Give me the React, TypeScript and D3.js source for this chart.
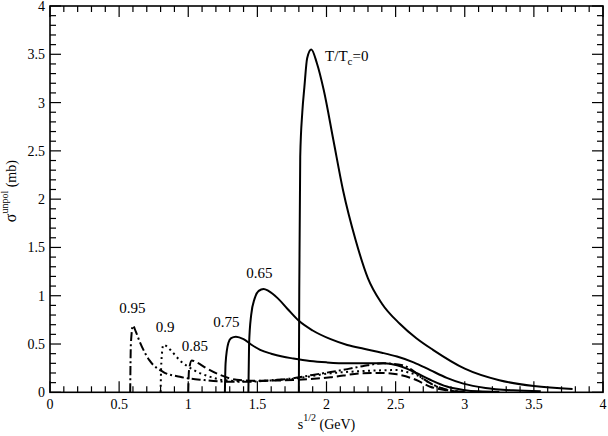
import { useEffect, useRef } from "react";
import * as d3 from "d3";

// curves, one per T/Tc
const t0X = [1.8, 1.803, 1.81, 1.825, 1.84, 1.86, 1.89, 1.93, 1.98, 2.05, 2.12, 2.21, 2.3, 2.4, 2.53, 2.65, 2.77, 3.0, 3.25, 3.5, 3.78];
const t0Y = [0, 1.06, 2.44, 2.9, 3.16, 3.46, 3.55, 3.41, 3.13, 2.61, 2.09, 1.58, 1.18, 0.92, 0.71, 0.56, 0.44, 0.245, 0.125, 0.065, 0.035];

const t65X = [1.435, 1.44, 1.455, 1.48, 1.51, 1.545, 1.58, 1.65, 1.72, 1.8, 1.9, 2.03, 2.15, 2.27, 2.4, 2.51, 2.63, 2.75, 2.87, 2.99, 3.15, 3.35, 3.55];
const t65Y = [0, 0.5, 0.8, 0.97, 1.05, 1.07, 1.05, 0.97, 0.86, 0.74, 0.64, 0.55, 0.49, 0.45, 0.41, 0.37, 0.31, 0.23, 0.15, 0.09, 0.045, 0.02, 0.01];

const t75X = [1.265, 1.27, 1.29, 1.31, 1.345, 1.4, 1.46, 1.52, 1.6, 1.68, 1.76, 1.88, 2.0, 2.15, 2.3, 2.41, 2.51, 2.58, 2.65, 2.75, 2.87, 2.99, 3.1, 3.25];
const t75Y = [0, 0.3, 0.51, 0.56, 0.575, 0.55, 0.49, 0.44, 0.4, 0.37, 0.35, 0.325, 0.31, 0.3, 0.3, 0.3, 0.28, 0.245, 0.2, 0.13, 0.06, 0.025, 0.01, 0.005];

const t85X = [1.0, 1.005, 1.025, 1.06, 1.13, 1.23, 1.35, 1.5, 1.76, 2.03, 2.26, 2.4, 2.51, 2.65, 2.75, 2.87, 2.95];
const t85Y = [0, 0.22, 0.33, 0.31, 0.25, 0.18, 0.13, 0.12, 0.127, 0.155, 0.197, 0.2, 0.186, 0.127, 0.058, 0.02, 0.005];

const t90X = [0.8, 0.805, 0.82, 0.84, 0.87, 0.94, 1.04, 1.16, 1.25, 1.4, 1.55, 1.76, 2.03, 2.26, 2.51, 2.58, 2.65, 2.75, 2.87, 2.95];
const t90Y = [0, 0.3, 0.49, 0.48, 0.44, 0.33, 0.23, 0.16, 0.127, 0.115, 0.12, 0.14, 0.197, 0.22, 0.23, 0.21, 0.18, 0.093, 0.024, 0.005];

const t95X = [0.58, 0.585, 0.6, 0.62, 0.65, 0.72, 0.82, 0.94, 1.11, 1.28, 1.45, 1.6, 1.76, 1.9, 2.03, 2.15, 2.26, 2.41, 2.55, 2.62, 2.68, 2.8, 2.9, 3.0];
const t95Y = [0, 0.5, 0.69, 0.63, 0.52, 0.33, 0.21, 0.16, 0.127, 0.11, 0.11, 0.125, 0.145, 0.18, 0.21, 0.24, 0.27, 0.3, 0.28, 0.23, 0.16, 0.06, 0.02, 0.005];

const xTickLabels = ["0", "0.5", "1", "1.5", "2", "2.5", "3", "3.5", "4"];
const yTickLabels = ["0", "0.5", "1", "1.5", "2", "2.5", "3", "3.5", "4"];

export default function App() {
  const ref = useRef<SVGSVGElement>(null);

  useEffect(() => {
    if (!ref.current) return;
    document.body.style.margin = "0";
    const svg = d3.select(ref.current);
    svg.selectAll("*").remove();

    const left = 50, right = 603, top = 6, bottom = 392.3;
    const x = d3.scaleLinear().domain([0, 4]).range([left, right]);
    const y = d3.scaleLinear().domain([0, 4]).range([bottom, top]);

    const curves = [
      { xs: t0X, ys: t0Y, dash: null },
      { xs: t65X, ys: t65Y, dash: null },
      { xs: t75X, ys: t75Y, dash: null },
      { xs: t85X, ys: t85Y, dash: "9,4" },
      { xs: t90X, ys: t90Y, dash: "2,3.5" },
      { xs: t95X, ys: t95Y, dash: "9,3,2,3" },
    ];

    const line = d3
      .line<[number, number]>()
      .x((d) => x(d[0]))
      .y((d) => y(d[1]))
      .curve(d3.curveMonotoneX);

    curves.forEach((c) => {
      const pts = c.xs.map((v, i) => [v, c.ys[i]] as [number, number]);
      const p = svg
        .append("path")
        .attr("d", line(pts))
        .attr("fill", "none")
        .attr("stroke", "#000")
        .attr("stroke-width", 2);
      if (c.dash) p.attr("stroke-dasharray", c.dash);
    });

    // ticks on all four sides, pointing in
    const ax = svg.append("g").attr("stroke", "#000").attr("stroke-width", 1.2);
    x.ticks(40).forEach((v) => {
      const major = Math.abs(v * 2 - Math.round(v * 2)) < 1e-6;
      const len = major ? 11 : 6;
      ax.append("line").attr("x1", x(v)).attr("x2", x(v)).attr("y1", bottom).attr("y2", bottom - len);
      ax.append("line").attr("x1", x(v)).attr("x2", x(v)).attr("y1", top).attr("y2", top + len);
    });
    y.ticks(40).forEach((v) => {
      const major = Math.abs(v * 2 - Math.round(v * 2)) < 1e-6;
      const len = major ? 11 : 6;
      ax.append("line").attr("x1", left).attr("x2", left + len).attr("y1", y(v)).attr("y2", y(v));
      ax.append("line").attr("x1", right).attr("x2", right - len).attr("y1", y(v)).attr("y2", y(v));
    });

    svg
      .append("rect")
      .attr("x", left)
      .attr("y", top)
      .attr("width", right - left)
      .attr("height", bottom - top)
      .attr("fill", "none")
      .attr("stroke", "#000")
      .attr("stroke-width", 1.6);

    const txt = (sel: any, size: number) =>
      sel.attr("font-family", "Liberation Serif").attr("font-size", size);

    xTickLabels.forEach((t) => {
      txt(svg.append("text"), 14)
        .attr("x", x(+t))
        .attr("y", 409)
        .attr("text-anchor", "middle")
        .text(t);
    });
    yTickLabels.forEach((t) => {
      txt(svg.append("text"), 14)
        .attr("x", 45)
        .attr("y", y(+t) + 5)
        .attr("text-anchor", "end")
        .text(t);
    });

    // axis titles
    const xl = txt(svg.append("text"), 14)
      .attr("x", (left + right) / 2)
      .attr("y", 429)
      .attr("text-anchor", "middle");
    xl.append("tspan").text("s");
    xl.append("tspan").attr("dy", -8).attr("font-size", 10).text("1/2");
    xl.append("tspan").attr("dy", 8).text(" (GeV)");

    const yl = txt(svg.append("text"), 14)
      .attr("transform", `translate(16,${(top + bottom) / 2 - 8}) rotate(-90)`)
      .attr("text-anchor", "middle");
    yl.append("tspan").attr("font-size", 16).text("σ");
    yl.append("tspan").attr("dy", -8).attr("font-size", 10).text("unpol");
    yl.append("tspan").attr("dy", 8).text(" (mb)");

    // curve annotations (data coords of the left edge / baseline)
    const notes = [
      { x: 1.99, y: 3.43, txt: "T/T", sub: "c", tail: "=0" },
      { x: 1.42, y: 1.18, txt: "0.65" },
      { x: 1.18, y: 0.676, txt: "0.75" },
      { x: 0.953, y: 0.43, txt: "0.85" },
      { x: 0.765, y: 0.62, txt: "0.9" },
      { x: 0.501, y: 0.82, txt: "0.95" },
    ];
    notes.forEach((n) => {
      const t = txt(svg.append("text"), 15).attr("x", x(n.x)).attr("y", y(n.y));
      t.append("tspan").text(n.txt);
      if (n.sub) {
        t.append("tspan").attr("dy", 4).attr("font-size", 11).text(n.sub);
        t.append("tspan").attr("dy", -4).text(n.tail);
      }
    });
  }, []);

  return <svg ref={ref} width={608} height={436} style={{ display: "block", background: "#fff" }} />;
}
